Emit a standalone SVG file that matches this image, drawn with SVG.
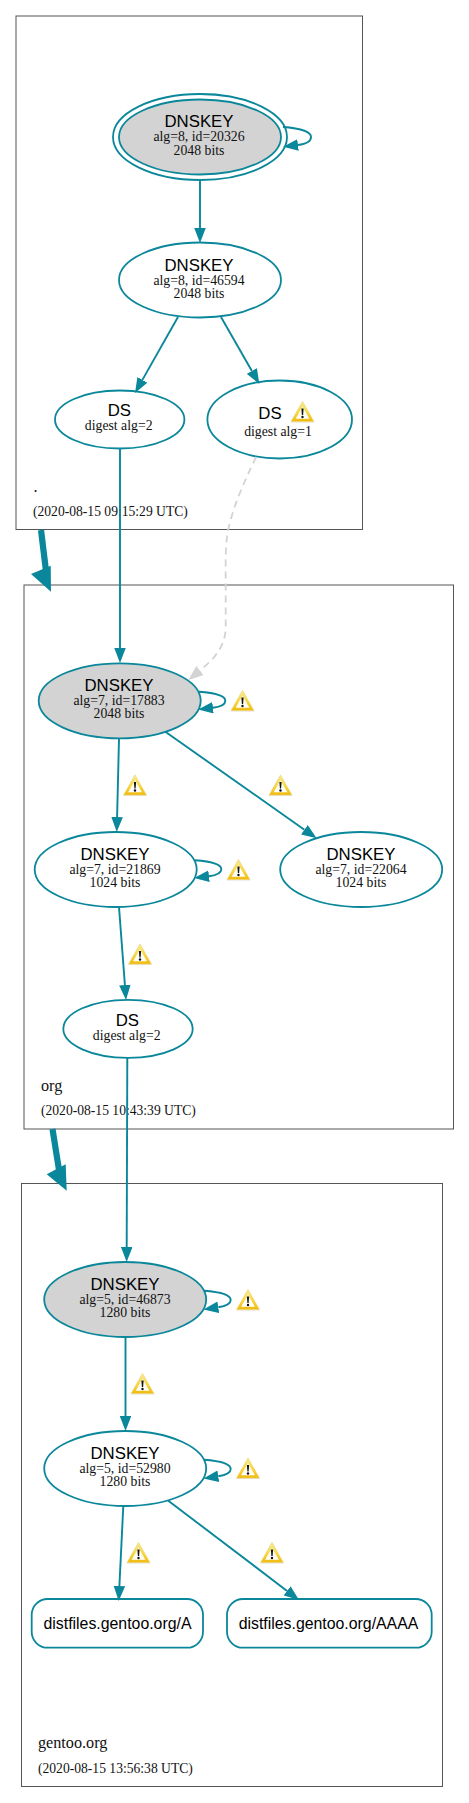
<svg xmlns="http://www.w3.org/2000/svg" xmlns:xlink="http://www.w3.org/1999/xlink" width="469" height="1803" viewBox="0 0 469 1803">
<style>
.box{fill:none;stroke:#555;stroke-width:1}
.n{fill:#fff;stroke:#0a879a;stroke-width:1.8}
.g{fill:#d3d3d3}
.dn{font:16.8px "Liberation Sans",Arial,sans-serif;text-anchor:middle;fill:#000}
.rr{font:15.85px "Liberation Sans",Arial,sans-serif;text-anchor:middle;fill:#000}
.sm{font:13.75px "Liberation Serif","Times New Roman",serif;text-anchor:middle;fill:#111}
.zone{font:16.2px "Liberation Serif","Times New Roman",serif;fill:#111}
.ts{font:13.6px "Liberation Serif","Times New Roman",serif;fill:#111}
.e{fill:none;stroke:#0a879a;stroke-width:1.9}
.d{fill:none;stroke:#d3d3d3;stroke-width:1.8;stroke-dasharray:7 5}
.thick{fill:none;stroke:#0a879a;stroke-width:6.2}
.head{fill:#0a879a}
</style>
<defs>
<marker id="a" markerUnits="userSpaceOnUse" markerWidth="15" markerHeight="12" refX="0" refY="5.75" orient="auto"><path d="M0,0L15,5.75L0,11.5z" fill="#0a879a"/></marker>
<marker id="ag" markerUnits="userSpaceOnUse" markerWidth="15" markerHeight="12" refX="0" refY="5.75" orient="auto"><path d="M0,0L15,5.75L0,11.5z" fill="#d3d3d3"/></marker>
<linearGradient id="wg" x1="0" y1="0" x2="0" y2="1"><stop offset="0" stop-color="#f8ec9a"/><stop offset=".6" stop-color="#f7d43a"/><stop offset="1" stop-color="#f0b90f"/></linearGradient>
<linearGradient id="wi" x1="0" y1="0" x2="0" y2="1"><stop offset="0" stop-color="#fffbe0"/><stop offset="1" stop-color="#fff"/></linearGradient>
<g id="warn">
<path d="M12,0.2L24,21.4H0z" fill="#c8c8c8" opacity=".55"/>
<path d="M12,0.4L23.4,20.6H0.6z" fill="url(#wg)" stroke="#f3d868" stroke-width=".6" stroke-linejoin="round"/>
<path d="M12,5.6L18.8,17.8H5.2z" fill="url(#wi)"/>
<path d="M10.9,7.6H13.1L12.6,14H11.4z" fill="#111"/>
<circle cx="12" cy="16" r="1.2" fill="#111"/>
</g>
</defs>
<g id="clusters">
<g id="zone-root"><rect class="box" x="16" y="16" width="346.5" height="513.5"/><text class="zone" x="33.5" y="491.5">.</text><text class="ts" x="33" y="516">(2020-08-15 09:15:29 UTC)</text></g>
<g id="zone-org"><rect class="box" x="24" y="585" width="429.5" height="544"/><text class="zone" x="41" y="1090.5">org</text><text class="ts" x="41" y="1115">(2020-08-15 10:43:39 UTC)</text></g>
<g id="zone-gentoo"><rect class="box" x="21.5" y="1183.5" width="421" height="603"/><text class="zone" x="38" y="1748">gentoo.org</text><text class="ts" x="38" y="1772.5">(2020-08-15 13:56:38 UTC)</text></g>
</g>
<g id="nodes">
<g id="k20326"><ellipse class="n" cx="200" cy="137" rx="87" ry="43"/><ellipse class="n g" cx="200" cy="137" rx="81" ry="37.5"/><text class="dn" x="199" y="127">DNSKEY</text><text class="sm" x="199" y="141">alg=8, id=20326</text><text class="sm" x="199" y="155">2048 bits</text></g>
<g id="k46594"><ellipse class="n" cx="200" cy="280" rx="81" ry="37.5"/><text class="dn" x="199" y="271">DNSKEY</text><text class="sm" x="199" y="285">alg=8, id=46594</text><text class="sm" x="199" y="298">2048 bits</text></g>
<g id="ds-root-2"><ellipse class="n" cx="119.7" cy="419.5" rx="64.7" ry="29"/><text class="dn" x="119.3" y="416">DS</text><text class="sm" x="118.7" y="430">digest alg=2</text></g>
<g id="ds-root-1"><ellipse class="n" cx="279.7" cy="419.5" rx="72.3" ry="39"/><text class="dn" x="270" y="418.5">DS</text><use xlink:href="#warn" x="290.5" y="401"/><text class="sm" x="278" y="436">digest alg=1</text></g>
<g id="k17883"><ellipse class="n g" cx="119.7" cy="700.8" rx="81" ry="37.5"/><text class="dn" x="119" y="691">DNSKEY</text><text class="sm" x="119" y="705">alg=7, id=17883</text><text class="sm" x="119" y="718">2048 bits</text></g>
<g id="k21869"><ellipse class="n" cx="115.7" cy="869.5" rx="81" ry="37.5"/><text class="dn" x="115" y="860">DNSKEY</text><text class="sm" x="115" y="874">alg=7, id=21869</text><text class="sm" x="115" y="887">1024 bits</text></g>
<g id="k22064"><ellipse class="n" cx="361.2" cy="869.5" rx="81" ry="37.5"/><text class="dn" x="361" y="860">DNSKEY</text><text class="sm" x="361" y="874">alg=7, id=22064</text><text class="sm" x="361" y="887">1024 bits</text></g>
<g id="ds-org"><ellipse class="n" cx="128" cy="1028.8" rx="64.7" ry="29"/><text class="dn" x="127.3" y="1026">DS</text><text class="sm" x="126.7" y="1040">digest alg=2</text></g>
<g id="k46873"><ellipse class="n g" cx="125.2" cy="1299.5" rx="81" ry="37.5"/><text class="dn" x="125" y="1290">DNSKEY</text><text class="sm" x="125" y="1304">alg=5, id=46873</text><text class="sm" x="125" y="1317">1280 bits</text></g>
<g id="k52980"><ellipse class="n" cx="125.2" cy="1468.5" rx="81" ry="37.5"/><text class="dn" x="125" y="1459">DNSKEY</text><text class="sm" x="125" y="1472.5">alg=5, id=52980</text><text class="sm" x="125" y="1486">1280 bits</text></g>
<g id="rr-a"><rect class="n" x="31.7" y="1599" width="171.3" height="48.7" rx="16" ry="16"/><text class="rr" x="117.5" y="1628.5">distfiles.gentoo.org/A</text></g>
<g id="rr-aaaa"><rect class="n" x="227" y="1599" width="204.7" height="48.7" rx="16" ry="16"/><text class="rr" x="328.5" y="1628.5">distfiles.gentoo.org/AAAA</text></g>
</g>
<g id="connectors">
<path class="d" d="M256,457C247,476 233,505 227.5,533C225,550 225.7,570 225.7,590V627C225.7,647 213,660 200,670.5" marker-end="url(#ag)"/>
<path class="e" d="M200,180V228" marker-end="url(#a)"/>
<path class="e" d="M283,127c14,1 28,4 28,10c0,4 -5,7 -13,8" marker-end="url(#a)"/>
<path class="e" d="M178,317L142.4,379.9" marker-end="url(#a)"/>
<path class="e" d="M221,317L251.9,371" marker-end="url(#a)"/>
<path class="e" d="M120,448.5V648" marker-end="url(#a)"/>
<path class="e" d="M199,691.7c14,1 26.3,3.5 26.3,9c0,3.5 -4,6 -12.3,7" marker-end="url(#a)"/>
<path class="e" d="M119,738.7L117.1,817" marker-end="url(#a)"/>
<path class="e" d="M165.7,732L304.4,829.7" marker-end="url(#a)"/>
<path class="e" d="M195,860.3c14,1 26.3,3.5 26.3,9c0,3.5 -4,6 -12.3,7" marker-end="url(#a)"/>
<path class="e" d="M119,907L124.9,985" marker-end="url(#a)"/>
<path class="e" d="M127.3,1057.7L126.7,1247" marker-end="url(#a)"/>
<path class="e" d="M204,1290.7c14,1 26.7,3.5 26.7,9.3c0,3.5 -4,6 -12.4,7.3" marker-end="url(#a)"/>
<path class="e" d="M125.5,1337.3V1416" marker-end="url(#a)"/>
<path class="e" d="M204,1459.7c14,1 26.7,3.5 26.7,9.3c0,3.5 -4,6 -12.4,7.3" marker-end="url(#a)"/>
<path class="e" d="M123.3,1506L119.4,1586" marker-end="url(#a)"/>
<path class="e" d="M168.3,1500.7L287.1,1590.9" marker-end="url(#a)"/>
<path class="thick" d="M41,530L46,571"/><path class="head" d="M31,574L50.7,565.7L51,591.7z"/>
<path class="thick" d="M52.5,1129L59,1170"/><path class="head" d="M46.7,1174.3L65.7,1164.3L66.7,1190.7z"/>
</g>
<g id="warnings">
<use xlink:href="#warn" x="230.5" y="690"/>
<use xlink:href="#warn" x="123" y="774.5"/>
<use xlink:href="#warn" x="268.5" y="774.5"/>
<use xlink:href="#warn" x="226.5" y="859"/>
<use xlink:href="#warn" x="128" y="943.5"/>
<use xlink:href="#warn" x="236" y="1289"/>
<use xlink:href="#warn" x="130.5" y="1373"/>
<use xlink:href="#warn" x="236" y="1457.5"/>
<use xlink:href="#warn" x="126.5" y="1542"/>
<use xlink:href="#warn" x="260" y="1542"/>
</g>
</svg>
